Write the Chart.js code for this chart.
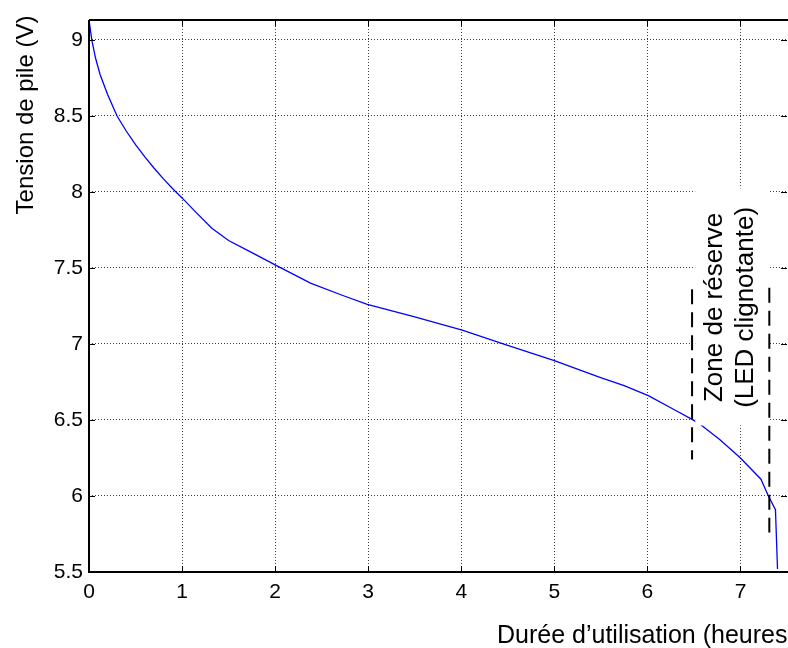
<!DOCTYPE html>
<html lang="fr">
<head>
<meta charset="utf-8">
<title>Tension de pile</title>
<script src="https://cdn.jsdelivr.net/npm/chart.js@4/dist/chart.umd.min.js"></script>
<style>
  html, body { margin: 0; padding: 0; background: #fff; overflow: hidden; }
  #wrap { width: 788px; height: 648px; }
</style>
</head>
<body>
<div id="wrap"><canvas id="pileChart" width="788" height="648"></canvas></div>
<script>
// durée d'utilisation (heures) / tension de la pile (V)
var hours   = [0, 0.03, 0.07, 0.12, 0.2, 0.3, 0.4, 0.5, 0.6, 0.7, 0.8, 0.9, 1.0, 1.15, 1.32, 1.5, 1.75, 2.0, 2.38, 2.72, 2.99, 3.49, 4.01, 4.45, 5.0, 5.49, 5.75, 6.01, 6.28, 6.49, 6.57, 6.78, 7.0, 7.22, 7.3, 7.376, 7.398];
var voltage = [9.13, 9.0, 8.88, 8.77, 8.64, 8.5, 8.4, 8.31, 8.23, 8.155, 8.085, 8.02, 7.96, 7.865, 7.76, 7.68, 7.6, 7.52, 7.4, 7.32, 7.26, 7.18, 7.09, 7.0, 6.89, 6.78, 6.725, 6.66, 6.57, 6.5, 6.47, 6.37, 6.25, 6.11, 6.0, 5.91, 5.52];

// limites de la zone de réserve (traits pointillés)
var reserveHours  = [6.48, 7.31];
var reserveTop    = [7.36, 7.37];
var reserveBottom = [6.24, 5.76];

var xTicks = [0, 1, 2, 3, 4, 5, 6, 7];
var yTicks = [5.5, 6, 6.5, 7, 7.5, 8, 8.5, 9];

var noteLines = ['Zone de réserve', '(LED clignotante)'];
var xTitle = 'Durée d’utilisation (heures)';
var yTitle = 'Tension de pile (V)';

var FONT = '"Liberation Sans", Arial, sans-serif';

function toPoints(xs, ys) {
  return xs.map(function(x, i) { return { x: x, y: ys[i] }; });
}

function reserveLine(i) {
  return {
    data: [{ x: reserveHours[i], y: reserveTop[i] }, { x: reserveHours[i], y: reserveBottom[i] }],
    borderColor: '#000',
    borderWidth: 2,
    borderDash: [15, 8],
    pointRadius: 0,
    fill: false
  };
}

function notePos(chart) {
  return {
    x: chart.scales.x.getPixelForValue(6.89),
    y: chart.scales.y.getPixelForValue(7.24)
  };
}

var decorPlugin = {
  id: 'decor',
  afterDatasetDraw: function(chart, args) {
    // fond blanc du texte, posé sur la courbe et la grille
    if (args.index !== 2) return;
    var ctx = chart.ctx;
    var p = notePos(chart);
    ctx.save();
    ctx.fillStyle = '#fff';
    ctx.fillRect(p.x - 35, p.y - 119, 73, 237);
    ctx.restore();
  },
  afterDatasetsDraw: function(chart) {
    var ctx = chart.ctx;
    var p = notePos(chart);
    ctx.save();
    ctx.translate(p.x, p.y);
    ctx.rotate(-Math.PI / 2);
    ctx.fillStyle = '#000';
    ctx.font = '26px ' + FONT;
    ctx.textAlign = 'center';
    ctx.textBaseline = 'alphabetic';
    ctx.fillText(noteLines[0], 0, -8);
    ctx.fillText(noteLines[1], 0, 23);
    ctx.restore();
  },
  afterDraw: function(chart) {
    var ctx = chart.ctx;
    var a = chart.chartArea;
    var sx = chart.scales.x, sy = chart.scales.y;
    ctx.save();
    // petites graduations vers l'intérieur
    ctx.strokeStyle = '#000';
    ctx.lineWidth = 1;
    ctx.beginPath();
    xTicks.forEach(function(v) {
      var px = Math.round(sx.getPixelForValue(v)) + 0.5;
      ctx.moveTo(px, a.bottom); ctx.lineTo(px, a.bottom - 6);
      ctx.moveTo(px, a.top); ctx.lineTo(px, a.top + 6);
    });
    yTicks.forEach(function(v) {
      var py = Math.round(sy.getPixelForValue(v)) + 0.5;
      ctx.moveTo(a.left, py); ctx.lineTo(a.left + 6, py);
      ctx.moveTo(a.right, py); ctx.lineTo(a.right - 6, py);
    });
    ctx.stroke();
    // cadre
    ctx.lineWidth = 2;
    ctx.beginPath();
    ctx.moveTo(a.left, a.top); ctx.lineTo(a.right + 2, a.top);
    ctx.moveTo(a.left, a.top); ctx.lineTo(a.left, a.bottom);
    ctx.lineTo(a.right + 2, a.bottom);
    ctx.stroke();
    // titres des axes
    ctx.fillStyle = '#000';
    ctx.font = '25px ' + FONT;
    ctx.textAlign = 'left';
    ctx.textBaseline = 'alphabetic';
    ctx.fillText(xTitle, 497, 643);
    ctx.translate(33, 115);
    ctx.rotate(-Math.PI / 2);
    ctx.font = '24px ' + FONT;
    ctx.textAlign = 'center';
    ctx.fillText(yTitle, 0, 0);
    ctx.restore();
  }
};

var ctx = document.getElementById('pileChart').getContext('2d');
var pileChart = new Chart(ctx, {
  type: 'line',
  data: {
    datasets: [
      reserveLine(0),
      reserveLine(1),
      {
        label: 'Tension',
        data: toPoints(hours, voltage),
        borderColor: '#0000ff',
        borderWidth: 1.3,
        pointRadius: 0,
        tension: 0,
        fill: false
      }
    ]
  },
  options: {
    responsive: false,
    animation: false,
    devicePixelRatio: 1,
    layout: { padding: { left: 0, top: 20, right: 1, bottom: 0 } },
    plugins: { legend: { display: false }, tooltip: { enabled: false } },
    scales: {
      x: {
        type: 'linear',
        min: 0,
        max: 7.5,
        afterBuildTicks: function(scale) { scale.ticks = xTicks.map(function(v) { return { value: v }; }); },
        afterFit: function(scale) { scale.height = 76; },
        grid: { color: 'rgba(0,0,0,0.75)', lineWidth: 1, drawTicks: false },
        border: { display: false, dash: [1, 2] },
        ticks: {
          color: '#000',
          padding: 8,
          maxRotation: 0,
          font: { family: FONT, size: 21 },
          callback: function(v) { return String(v); }
        }
      },
      y: {
        type: 'linear',
        min: 5.5,
        max: 9.13,
        afterBuildTicks: function(scale) { scale.ticks = yTicks.map(function(v) { return { value: v }; }); },
        afterFit: function(scale) { scale.width = 89; },
        grid: { color: 'rgba(0,0,0,0.75)', lineWidth: 1, drawTicks: false },
        border: { display: false, dash: [1, 2] },
        ticks: {
          color: '#000',
          padding: 6,
          font: { family: FONT, size: 21 },
          callback: function(v) { return String(v); }
        }
      }
    }
  },
  plugins: [decorPlugin]
});
</script>
</body>
</html>
